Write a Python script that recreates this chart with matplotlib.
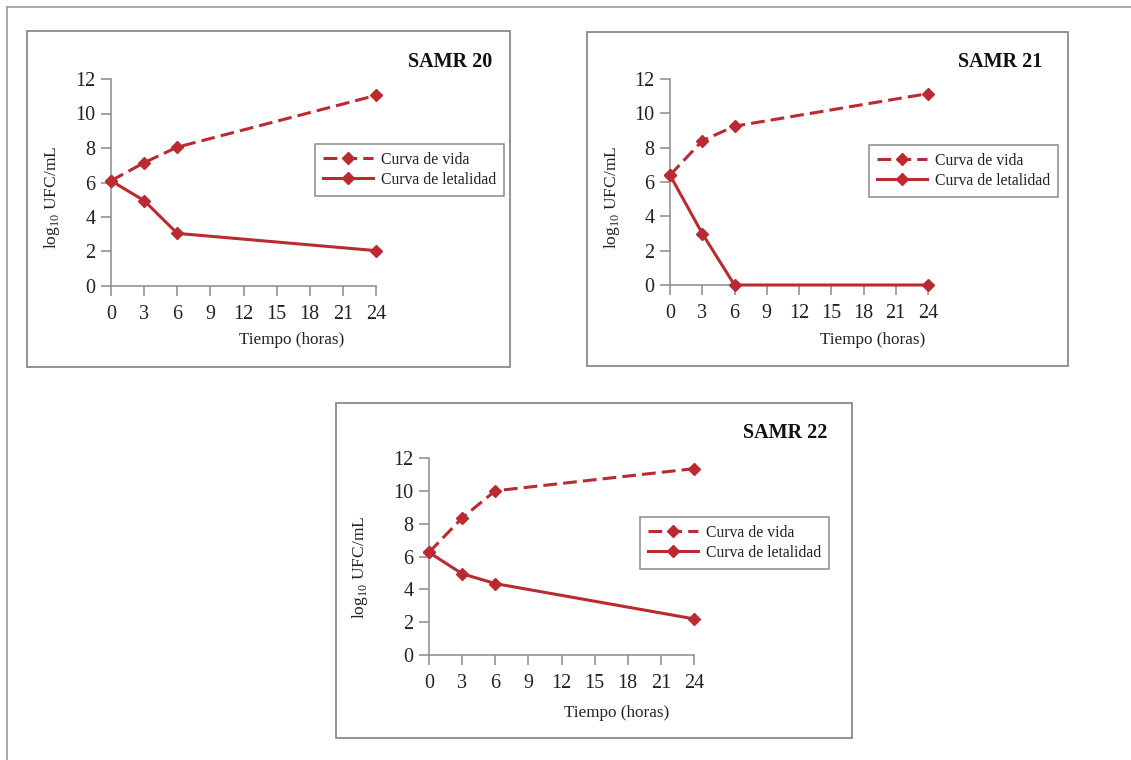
import matplotlib
matplotlib.use("Agg")
import matplotlib.pyplot as plt
from matplotlib.patches import Rectangle
from matplotlib.lines import Line2D

plt.rcParams['font.family'] = ['Liberation Serif', 'DejaVu Serif']
plt.rcParams['mathtext.fontset'] = 'custom'
plt.rcParams['mathtext.rm'] = 'Liberation Serif'

W, H = 1131, 760

horas = [0, 3, 6, 24]
titulos = ['SAMR 20', 'SAMR 21', 'SAMR 22']
vida = [[6.1, 7.15, 8.05, 11.05],
        [6.4, 8.4, 9.25, 11.15],
        [6.25, 8.35, 10.0, 11.35]]
letalidad = [[6.1, 4.95, 3.05, 2.05],
             [6.4, 3.0, 0.0, 0.0],
             [6.25, 4.95, 4.35, 2.2]]
xticks = [0, 3, 6, 9, 12, 15, 18, 21, 24]
yticks = [0, 2, 4, 6, 8, 10, 12]

rojo = '#ba2a30'
gris = '#8a8a8a'

# pixel layout: box (l, t, r, b), axes (l, t, r, b), title (right x, y),
# legend (l, t), ylabel (x, y), xlabel (x, y)
paneles = [
    dict(box=(27, 31, 510, 367), ax=(111, 79, 376, 286), tit=(492, 62),
         leg=(315, 144), yl=(52, 197), xl=(292, 340)),
    dict(box=(587, 32, 1068, 366), ax=(670, 79, 928, 285), tit=(1042, 62),
         leg=(869, 145), yl=(612, 197), xl=(873, 340)),
    dict(box=(336, 403, 852, 738), ax=(429, 458, 694, 655), tit=(827, 433),
         leg=(640, 517), yl=(360, 567), xl=(617, 713)),
]

fig = plt.figure(figsize=(W / 100, H / 100), dpi=100)

# outer frame (top and left lines)
fig.add_artist(Line2D([7 / W, 1], [1 - 7 / H, 1 - 7 / H], color='#9a9a9a', lw=1.2))
fig.add_artist(Line2D([7 / W, 7 / W], [0, 1 - 7 / H], color='#9a9a9a', lw=1.2))

for i, p in enumerate(paneles):
    bl, bt, br, bb = p['box']
    fig.add_artist(Rectangle((bl / W, 1 - bb / H), (br - bl) / W, (bb - bt) / H,
                             fill=False, edgecolor=gris, lw=1.3))
    al, at, ar, ab = p['ax']
    ax = fig.add_axes([al / W, 1 - ab / H, (ar - al) / W, (ab - at) / H])
    ax.plot(horas, vida[i], color=rojo, lw=2.2, dashes=(4.5, 2), marker='D',
            ms=6.5, clip_on=False, zorder=3, label='Curva de vida')
    ax.plot(horas, letalidad[i], color=rojo, lw=2.2, marker='D',
            ms=6.5, clip_on=False, zorder=3, label='Curva de letalidad')
    ax.set_xlim(0, 24)
    ax.set_ylim(0, 12)
    ax.set_xticks(xticks)
    ax.set_yticks(yticks)
    for s in ['top', 'right']:
        ax.spines[s].set_visible(False)
    for s in ['left', 'bottom']:
        ax.spines[s].set_color(gris)
        ax.spines[s].set_linewidth(1.1)
    ax.tick_params(colors=gris, labelcolor='#222222', labelsize=14.5, length=7,
                   width=1.1)
    ax.tick_params(axis='x', pad=7)
    ax.tick_params(axis='y', pad=4)

    fig.text(p['tit'][0] / W, 1 - p['tit'][1] / H, titulos[i], ha='right',
             va='center', fontsize=14.5, fontweight='bold', color='#111111')
    fig.text(p['yl'][0] / W, 1 - p['yl'][1] / H, r'log$_{\mathrm{10}}$ UFC/mL',
             rotation=90, ha='center', va='center', fontsize=12.5, color='#222222')
    fig.text(p['xl'][0] / W, 1 - p['xl'][1] / H, 'Tiempo (horas)',
             ha='center', va='center', fontsize=12.3, color='#222222')

    leg = fig.legend(*ax.get_legend_handles_labels(), loc='upper left',
                     bbox_to_anchor=(p['leg'][0] / W, 1 - p['leg'][1] / H),
                     fontsize=11.3, fancybox=False, framealpha=1,
                     edgecolor=gris, handlelength=3.2, borderpad=0.5,
                     labelspacing=0.25, handletextpad=0.5, borderaxespad=0)
    leg.get_frame().set_linewidth(1.1)
    for t in leg.get_texts():
        t.set_color('#222222')

fig.savefig('out.png', dpi=100)
